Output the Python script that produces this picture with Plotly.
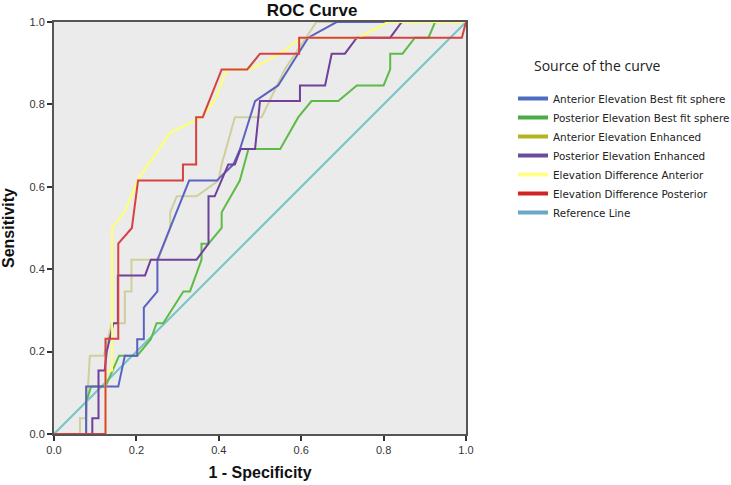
import plotly.graph_objects as go

# ---- data ----
ant_bfs_x = [0, 0.078, 0.078, 0.156, 0.172, 0.202, 0.202, 0.218, 0.218, 0.251, 0.251, 0.328, 0.395, 0.435, 0.451, 0.488, 0.544, 0.617, 0.686, 1.0]
ant_bfs_y = [0, 0, 0.115, 0.115, 0.19, 0.19, 0.23, 0.23, 0.307, 0.346, 0.423, 0.615, 0.615, 0.654, 0.69, 0.808, 0.846, 0.962, 1.0, 1.0]

post_bfs_x = [0, 0.078, 0.078, 0.09, 0.125, 0.158, 0.202, 0.235, 0.249, 0.265, 0.314, 0.33, 0.358, 0.358, 0.375, 0.407, 0.407, 0.451, 0.472, 0.549, 0.593, 0.625, 0.69, 0.735, 0.8, 0.816, 0.816, 0.846, 0.876, 0.909, 0.925, 1.0]
post_bfs_y = [0, 0, 0.077, 0.115, 0.115, 0.19, 0.19, 0.23, 0.269, 0.269, 0.346, 0.346, 0.423, 0.462, 0.462, 0.5, 0.538, 0.615, 0.692, 0.692, 0.769, 0.808, 0.808, 0.846, 0.846, 0.885, 0.923, 0.923, 0.962, 0.962, 1.0, 1.0]

ant_enh_x = [0, 0.063, 0.063, 0.078, 0.087, 0.121, 0.14, 0.172, 0.172, 0.188, 0.188, 0.253, 0.282, 0.282, 0.298, 0.346, 0.399, 0.407, 0.439, 0.504, 0.56, 0.637, 1.0]
ant_enh_y = [0, 0, 0.038, 0.038, 0.19, 0.19, 0.269, 0.269, 0.346, 0.346, 0.423, 0.423, 0.5, 0.538, 0.577, 0.577, 0.615, 0.654, 0.769, 0.769, 0.885, 1.0, 1.0]

post_enh_x = [0, 0.093, 0.093, 0.108, 0.108, 0.123, 0.128, 0.144, 0.155, 0.155, 0.221, 0.235, 0.346, 0.375, 0.375, 0.39, 0.423, 0.439, 0.453, 0.488, 0.5, 0.597, 0.597, 0.658, 0.674, 0.706, 0.735, 0.816, 0.844, 1.0]
post_enh_y = [0, 0, 0.038, 0.038, 0.154, 0.154, 0.2, 0.269, 0.269, 0.385, 0.385, 0.423, 0.423, 0.462, 0.577, 0.577, 0.654, 0.654, 0.692, 0.692, 0.808, 0.808, 0.846, 0.846, 0.923, 0.923, 0.962, 0.962, 1.0, 1.0]

diff_ant_x = [0, 0.125, 0.125, 0.141, 0.141, 0.172, 0.205, 0.282, 0.358, 0.39, 0.419, 0.476, 0.549, 0.6, 0.74, 0.81, 1.0]
diff_ant_y = [0, 0, 0.15, 0.154, 0.5, 0.54, 0.62, 0.731, 0.769, 0.808, 0.885, 0.885, 0.923, 0.962, 0.962, 1.0, 1.0]

diff_post_x = [0, 0.125, 0.125, 0.156, 0.156, 0.189, 0.204, 0.313, 0.313, 0.345, 0.345, 0.361, 0.407, 0.469, 0.5, 0.595, 0.595, 0.99, 1.0]
diff_post_y = [0, 0, 0.231, 0.231, 0.462, 0.5, 0.615, 0.615, 0.654, 0.654, 0.769, 0.769, 0.885, 0.885, 0.923, 0.923, 0.962, 0.962, 1.0]

ref_x = [0, 1]
ref_y = [0, 1]

tick_vals = [0, 0.2, 0.4, 0.6, 0.8, 1.0]
tick_text = ["0.0", "0.2", "0.4", "0.6", "0.8", "1.0"]

names = ["Anterior Elevation Best fit sphere", "Posterior Elevation Best fit sphere",
         "Anterior Elevation Enhanced", "Posterior Elevation Enhanced",
         "Elevation Difference Anterior", "Elevation Difference Posterior", "Reference Line"]
line_colors = ["#5b62c2", "#5cbc46", "#cfcf9c", "#70409a", "#ffff70", "#d6423f", "#74c4c8"]
legend_colors = ["#4e6cc0", "#4aaa44", "#b4b420", "#6a4c9c", "#ffff88", "#d02424", "#6aa6c6"]
series = [(ant_bfs_x, ant_bfs_y), (post_bfs_x, post_bfs_y), (ant_enh_x, ant_enh_y),
          (post_enh_x, post_enh_y), (diff_ant_x, diff_ant_y), (diff_post_x, diff_post_y),
          (ref_x, ref_y)]

fig = go.Figure()
draw_order = [6, 2, 1, 0, 3, 4, 5]
for i in draw_order:
    xs, ys = series[i]
    fig.add_trace(go.Scatter(x=xs, y=ys, mode="lines", name=names[i],
                             line=dict(color=line_colors[i], width=2),
                             showlegend=False, hoverinfo="skip"))
# legend entries
for i in range(7):
    fig.add_trace(go.Scatter(x=[None], y=[None], mode="lines", name=names[i],
                             line=dict(color=legend_colors[i], width=4),
                             showlegend=True))

L, R, T, B = 54, 466, 22, 434
PW, PH = R - L, B - T

fig.update_layout(
    width=731, height=485,
    margin=dict(l=L, r=731 - R, t=T, b=485 - B, autoexpand=False),
    paper_bgcolor="white", plot_bgcolor="#ebebeb",
    font=dict(family="Liberation Sans, Arial, sans-serif", size=11, color="#222"),
    title=dict(text="<b>ROC Curve</b>", x=312 / 731, xanchor="center", y=1 - 10 / 485, yanchor="middle",
               font=dict(size=17, color="#111")),
    showlegend=True,
    legend=dict(x=(513 - L) / PW, xanchor="left", y=(B - 84) / PH, yanchor="top", bgcolor="rgba(0,0,0,0)",
                font=dict(family="DejaVu Sans, Open Sans, sans-serif", size=10.4, color="#222"),
                itemwidth=30, tracegroupgap=0, traceorder="normal"),
    xaxis=dict(range=[0, 1], tickvals=tick_vals, ticktext=tick_text, automargin=False,
               ticks="outside", ticklen=5, tickwidth=1.5, tickcolor="#333",
               showgrid=False, zeroline=False, showline=True, linecolor="#555", linewidth=2, mirror=True,
               title=dict(text="<b>1 - Specificity</b>", font=dict(size=16, color="#111"), standoff=12),
               tickfont=dict(size=11, color="#333")),
    yaxis=dict(range=[0, 1], tickvals=tick_vals, ticktext=tick_text, automargin=False,
               ticks="outside", ticklen=5, tickwidth=1.5, tickcolor="#333",
               showgrid=False, zeroline=False, showline=True, linecolor="#555", linewidth=2, mirror=True,
               title=dict(text="<b>Sensitivity</b>", font=dict(size=16, color="#111"), standoff=12),
               tickfont=dict(size=11, color="#333")),
    annotations=[dict(text="Source of the curve", xref="paper", yref="paper",
                      x=(532 - L) / PW, y=(B - 66) / PH, xanchor="left", yanchor="middle",
                      showarrow=False, font=dict(family="Open Sans, Liberation Sans, sans-serif", size=14, color="#222"))],
)

fig.write_html("out.html", config={"displayModeBar": False},
               post_script="document.body.style.margin='0';document.body.style.padding='0';document.body.style.overflow='hidden';")
